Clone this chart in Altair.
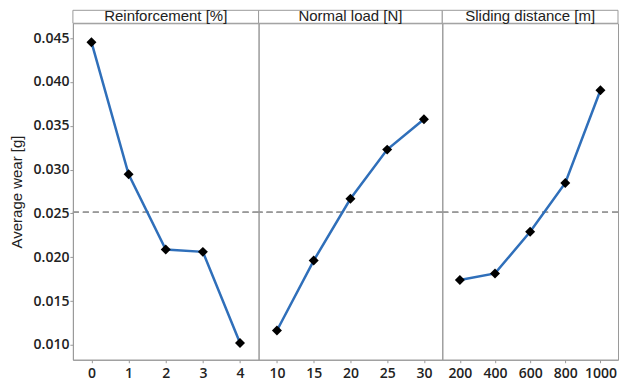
import altair as alt
import pandas as pd

# ---- data ----
panel_titles = ["Reinforcement [%]", "Normal load [N]", "Sliding distance [m]"]

reinf_levels = [0, 1, 2, 3, 4]
reinf_wear = [0.04454, 0.02946, 0.02088, 0.02061, 0.01020]

load_levels = [10, 15, 20, 25, 30]
load_wear = [0.01164, 0.01962, 0.02667, 0.03228, 0.03575]

dist_levels = [200, 400, 600, 800, 1000]
dist_wear = [0.01739, 0.01815, 0.02290, 0.02847, 0.03905]

y_ticks = [0.010, 0.015, 0.020, 0.025, 0.030, 0.035, 0.040, 0.045]
y_domain = [0.0083, 0.0467]

grand_mean = sum(reinf_wear) / len(reinf_wear)

LINE_COLOR = "#2f6fba"
GRAY = "#9a9a9a"
LABEL_FONT = "Open Sans"
TEXT_FONT = "Liberation Sans"
HEADER_H = 13
PLOT_H = 337


def panel(title, levels, wear, width, show_y):
    df = pd.DataFrame(
        {"level": levels, "wear": wear, "mean": [grand_mean] * len(levels)}
    )
    x = alt.X(
        "level:O",
        scale=alt.Scale(type="point", padding=0.5),
        axis=alt.Axis(title=None, labelAngle=0),
    )
    if show_y:
        yax = alt.Axis(title="Average wear [g]", values=y_ticks, format=".3f")
    else:
        yax = None
    yscale = alt.Scale(domain=y_domain, nice=False, zero=False)
    y = alt.Y("wear:Q", scale=yscale, axis=yax)

    base = alt.Chart(df)
    rule = base.mark_rule(color=GRAY, strokeDash=[6, 4], strokeWidth=1).encode(
        y=alt.Y("mean:Q", scale=yscale, axis=yax)
    )
    line = base.mark_line(color=LINE_COLOR, strokeWidth=2.5).encode(x=x, y=y)
    pts = base.mark_point(
        shape="diamond", filled=True, color="black", size=100, opacity=1
    ).encode(x=x, y=y)

    hdr_df = pd.DataFrame({"t": [title]})
    hdr_box = (
        alt.Chart(hdr_df)
        .mark_rect(fill="white", stroke=GRAY, strokeWidth=1)
        .encode(
            x=alt.value(0),
            x2=alt.value(width),
            y=alt.value(-HEADER_H),
            y2=alt.value(0),
        )
    )
    hdr_text = (
        alt.Chart(hdr_df)
        .mark_text(font=TEXT_FONT, fontSize=15, color="#222", baseline="alphabetic")
        .encode(text="t:N", x=alt.value(width / 2), y=alt.value(-2))
    )
    return alt.layer(rule, line, pts, hdr_box, hdr_text).properties(
        width=width, height=PLOT_H
    )


p1 = panel(panel_titles[0], reinf_levels, reinf_wear, 186, True)
p2 = panel(panel_titles[1], load_levels, load_wear, 184, False)
p3 = panel(panel_titles[2], dist_levels, dist_wear, 176, False)

chart = (
    alt.hconcat(p1, p2, p3, spacing=0, bounds="flush")
    .properties(padding={"left": 0, "top": 0, "right": 0, "bottom": 0})
    .configure_view(stroke=GRAY, strokeWidth=1)
    .configure_axis(
        grid=False,
        domainColor=GRAY,
        tickColor=GRAY,
        tickSize=3,
        labelFont=LABEL_FONT,
        labelFontSize=14,
        labelFontWeight=600,
        labelColor="#222",
        titleFont=TEXT_FONT,
        titleFontSize=15,
        titleFontWeight="normal",
        titleColor="#222",
    )
    .configure_axisY(labelPadding=1, titlePadding=9)
    .configure_axisX(labelPadding=4)
)

chart.save("out.html", embed_options={"renderer": "svg", "actions": False})
